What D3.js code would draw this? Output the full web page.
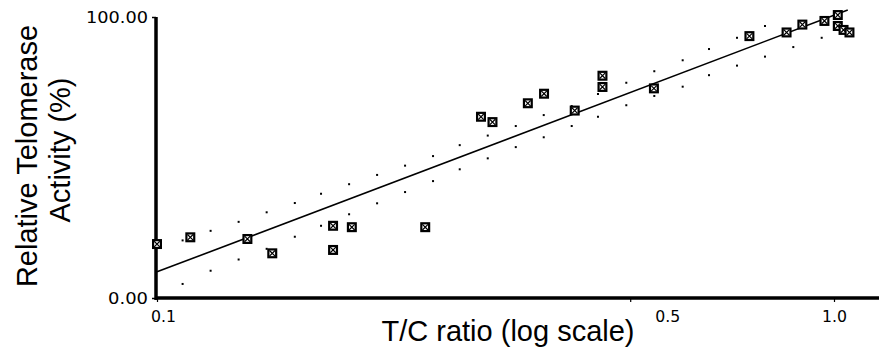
<!DOCTYPE html>
<html><head><meta charset="utf-8">
<script src="https://cdn.jsdelivr.net/npm/d3@7"></script>
<style>
html,body{margin:0;padding:0;background:#fff;}
svg{display:block;}
</style></head>
<body><svg id="chart" width="879" height="350"></svg>
<script>
// ---- data ----
const ratioTC = [0.100,0.112,0.136,0.148,0.182,0.182,0.194,0.249,0.301,0.313,0.353,0.373,0.414,0.455,0.455,0.542,0.750,0.851,0.898,0.968,1.013,1.013,1.033,1.054];
const activity = [19.2,21.6,21.0,15.9,25.7,17.1,25.2,25.2,64.5,62.6,69.3,72.7,66.7,79.1,75.1,74.6,93.2,94.5,97.3,98.6,100.7,96.8,95.4,94.5];
const fitX = [0.1, 1.048];
const fitY = [9.3, 102.5];
const bandX = [0.1091,0.1200,0.1320,0.1452,0.1598,0.1747,0.1922,0.2114,0.2325,0.2557,0.2800,0.3080,0.3388,0.3726,0.4098,0.4481,0.4934,0.5427,0.5977,0.6537,0.7190,0.7908,0.8707,0.9590];
const bandUpper = [20.5,23.9,27.1,30.5,33.8,37.1,40.5,43.8,47.1,50.5,54.4,57.8,61.2,65.1,68.3,72.6,76.6,80.7,84.6,88.6,92.6,96.8,null,null];
const bandLower = [5.0,9.7,13.7,17.5,21.8,25.7,29.8,33.7,37.7,41.6,45.8,49.7,53.7,57.2,61.2,64.5,68.6,71.9,75.2,79.3,82.7,85.9,89.3,92.6];
const xTicks = [0.1, 0.5, 1.0];
const xTickLabels = ["0.1", "0.5", "1.0"];
const yTicks = [0, 100];
const yTickLabels = ["0.00", "100.00"];
const xTitle = "T/C ratio (log scale)";
const yTitleLines = ["Relative Telomerase", "Activity (%)"];

// ---- drawing ----
const svg = d3.select("#chart");
const x = d3.scaleLog().domain([0.1, 1.0]).range([157, 834]);
const y = d3.scaleLinear().domain([0, 100]).range([298, 17]);
const W = 879;

// confidence band dots
const bandG = svg.append("g");
bandX.forEach((bx, i) => {
  [bandUpper[i], bandLower[i]].forEach(v => {
    if (v === null) return;
    bandG.append("rect").attr("x", x(bx) - 1).attr("y", y(v) - 1)
      .attr("width", 2).attr("height", 2).attr("fill", "#000");
  });
});

// regression line
svg.append("path")
  .datum(fitX.map((d, i) => [d, fitY[i]]))
  .attr("d", d3.line().x(d => x(d[0])).y(d => y(d[1])))
  .attr("fill", "none").attr("stroke", "#000").attr("stroke-width", 1.6);

// axes
const yAxis = svg.append("g").attr("transform", "translate(156,0)")
  .call(d3.axisLeft(y).tickValues(yTicks).tickSize(4).tickPadding(4)
    .tickFormat((d, i) => yTickLabels[i]));
yAxis.select(".domain").attr("stroke-width", 3.5).attr("d", `M0,${y(100)}V${y(0)+2}`);
yAxis.selectAll(".tick line").attr("stroke-width", 1.5);
yAxis.selectAll("text").attr("font-family", "DejaVu Sans").attr("font-size", 15)
  .attr("fill", "#000").attr("dy", "0.35em")
  .attr("textLength", (d, i) => i === 0 ? 40 : 62).attr("lengthAdjust", "spacingAndGlyphs");

const xAxis = svg.append("g").attr("transform", "translate(0,298)")
  .call(d3.axisBottom(x).tickValues(xTicks).tickSize(4).tickPadding(9)
    .tickFormat((d, i) => xTickLabels[i]));
xAxis.select(".domain").attr("stroke-width", 3.5).attr("d", `M${x(0.1)-2},0H${W}`);
xAxis.selectAll(".tick line").attr("stroke-width", 1.2);
xAxis.selectAll("text").attr("font-family", "DejaVu Sans").attr("font-size", 15)
  .attr("fill", "#000").attr("dx", (d, i) => i === 0 ? 6 : (i === 1 ? 37 : 0))
  .attr("textLength", 25).attr("lengthAdjust", "spacingAndGlyphs");

// markers
const mk = svg.append("g");
ratioTC.forEach((r, i) => {
  const cx = x(r), cy = y(activity[i]);
  const g = mk.append("g").attr("transform", `translate(${cx},${cy})`);
  g.append("rect").attr("x", -5).attr("y", -5).attr("width", 10).attr("height", 10).attr("fill", "#000");
  g.append("rect").attr("x", -2.8).attr("y", -2.8).attr("width", 5.6).attr("height", 5.6).attr("fill", "#fff");
  g.append("path").attr("d", "M-2.8,-2.8L2.8,2.8M2.8,-2.8L-2.8,2.8").attr("stroke", "#000").attr("stroke-width", 1.2);
});

// titles
svg.append("text").attr("x", 508).attr("y", 341).attr("text-anchor", "middle")
  .attr("font-family", "Liberation Sans, Arial, sans-serif").attr("font-size", 29)
  .attr("fill", "#000").text(xTitle);
[[37, 156], [70, 150]].forEach((p, i) => {
  svg.append("text").attr("transform", `translate(${p[0]},${p[1]}) rotate(-90)`)
    .attr("text-anchor", "middle")
    .attr("font-family", "Liberation Sans, Arial, sans-serif").attr("font-size", 29)
    .attr("fill", "#000").text(yTitleLines[i]);
});
</script></body></html>
